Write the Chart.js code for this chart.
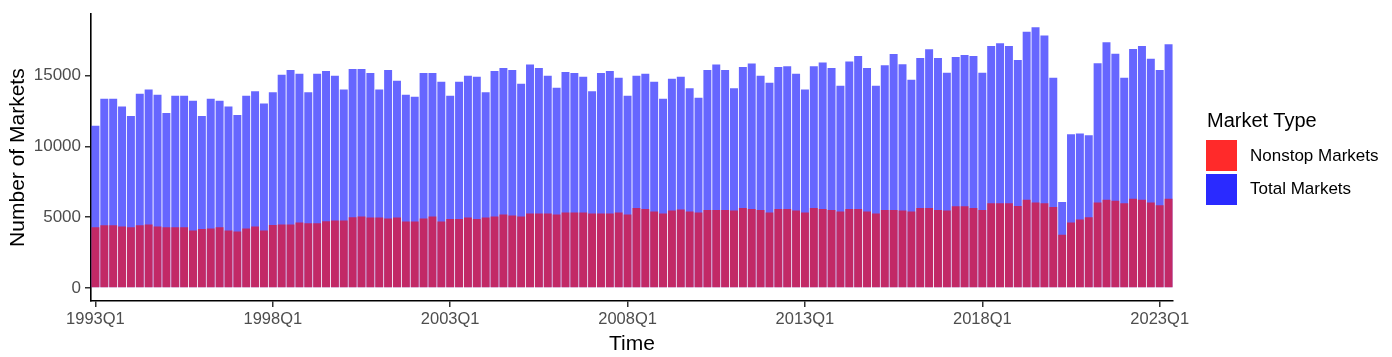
<!DOCTYPE html>
<html>
<head>
<meta charset="utf-8">
<script src="https://cdn.jsdelivr.net/npm/chart.js@4"></script>
<style>
  html, body { margin: 0; padding: 0; background: #ffffff; }
  #wrap { position: relative; width: 1392px; height: 357px; }
  #chart { position: absolute; left: 0; top: 0; }
  .lg { position: absolute; font-family: 'Liberation Sans', Arial, sans-serif; color: #000; white-space: nowrap; }
  .key { position: absolute; width: 31px; height: 31px; }
</style>
</head>
<body>
<div id="wrap">
  <canvas id="chart" width="1392" height="357"></canvas>
  <div class="lg" style="left:1207px; top:107px; font-size:20px; line-height:26px;">Market Type</div>
  <div class="key" style="left:1206px; top:140px; background:#ff2a2a;"></div>
  <div class="key" style="left:1206px; top:174px; background:#2a2aff;"></div>
  <div class="lg" style="left:1250px; top:145px; font-size:17px; line-height:22px;">Nonstop Markets</div>
  <div class="lg" style="left:1250px; top:178px; font-size:17px; line-height:22px;">Total Markets</div>
</div>
<script>
const quarters = [
  '1993Q1','1993Q2','1993Q3','1993Q4','1994Q1','1994Q2','1994Q3','1994Q4',
  '1995Q1','1995Q2','1995Q3','1995Q4','1996Q1','1996Q2','1996Q3','1996Q4',
  '1997Q1','1997Q2','1997Q3','1997Q4','1998Q1','1998Q2','1998Q3','1998Q4',
  '1999Q1','1999Q2','1999Q3','1999Q4','2000Q1','2000Q2','2000Q3','2000Q4',
  '2001Q1','2001Q2','2001Q3','2001Q4','2002Q1','2002Q2','2002Q3','2002Q4',
  '2003Q1','2003Q2','2003Q3','2003Q4','2004Q1','2004Q2','2004Q3','2004Q4',
  '2005Q1','2005Q2','2005Q3','2005Q4','2006Q1','2006Q2','2006Q3','2006Q4',
  '2007Q1','2007Q2','2007Q3','2007Q4','2008Q1','2008Q2','2008Q3','2008Q4',
  '2009Q1','2009Q2','2009Q3','2009Q4','2010Q1','2010Q2','2010Q3','2010Q4',
  '2011Q1','2011Q2','2011Q3','2011Q4','2012Q1','2012Q2','2012Q3','2012Q4',
  '2013Q1','2013Q2','2013Q3','2013Q4','2014Q1','2014Q2','2014Q3','2014Q4',
  '2015Q1','2015Q2','2015Q3','2015Q4','2016Q1','2016Q2','2016Q3','2016Q4',
  '2017Q1','2017Q2','2017Q3','2017Q4','2018Q1','2018Q2','2018Q3','2018Q4',
  '2019Q1','2019Q2','2019Q3','2019Q4','2020Q1','2020Q2','2020Q3','2020Q4',
  '2021Q1','2021Q2','2021Q3','2021Q4','2022Q1','2022Q2','2022Q3','2022Q4',
  '2023Q1','2023Q2'
];

const totalMarkets = [
  11470,13370,13370,12830, 12150,13720,14020,13650,
  12360,13580,13580,13230, 12150,13370,13230,12830,
  12220,13580,13900,13040, 13830,15070,15400,15140,
  13830,15140,15330,15000, 14020,15470,15470,15190,
  14020,15400,14650,13650, 13510,15190,15190,14580,
  13580,14580,15000,14930, 13830,15330,15540,15400,
  14440,15790,15540,15000, 14160,15260,15190,14930,
  13900,15190,15330,14860, 13580,15000,15140,14580,
  13370,14790,14930,14110, 13440,15400,15790,15400,
  14110,15610,15860,15000, 14510,15610,15680,15140,
  14020,15680,15930,15540, 14300,16000,16400,15540,
  14300,15750,16540,15820, 14720,16260,16870,16260,
  15210,16330,16470,16400, 15210,17100,17290,17100,
  16120,18110,18430,17850, 14860,6070,10860,10910,
  10790,15890,17360,16560, 14860,16890,17100,16210,
  15400,17220
];

const nonstopMarkets = [
  4300,4440,4440,4350, 4300,4440,4490,4350,
  4300,4300,4300,4070, 4160,4210,4300,4070,
  4000,4210,4350,4070, 4460,4490,4490,4630,
  4580,4580,4720,4770, 4770,5000,5050,4980,
  4980,4910,4980,4700, 4700,4910,5050,4700,
  4880,4880,4980,4880, 4980,5050,5190,5120,
  5050,5260,5260,5260, 5190,5330,5330,5330,
  5260,5260,5260,5330, 5190,5650,5580,5400,
  5260,5470,5540,5400, 5330,5510,5510,5510,
  5470,5650,5580,5510, 5330,5580,5580,5470,
  5330,5650,5580,5510, 5400,5580,5580,5400,
  5260,5510,5510,5470, 5400,5650,5650,5510,
  5470,5770,5770,5650, 5510,5980,5980,5980,
  5790,6240,6050,5980, 5720,3760,4630,4840,
  5000,6050,6240,6170, 5980,6310,6240,6050,
  5840,6310
];

const xTickLabels = ['1993Q1','1998Q1','2003Q1','2008Q1','2013Q1','2018Q1','2023Q1'];
const yTickValues = [0, 5000, 10000, 15000];

const FONT = "'Liberation Sans', Arial, sans-serif";

new Chart(document.getElementById('chart'), {
  type: 'bar',
  data: {
    labels: quarters,
    datasets: [
      {
        label: 'Nonstop Markets',
        data: nonstopMarkets,
        backgroundColor: 'rgba(255,0,0,0.6)',
        borderWidth: 0,
        grouped: false,
        barPercentage: 0.9,
        categoryPercentage: 1.0
      },
      {
        label: 'Total Markets',
        data: totalMarkets,
        backgroundColor: 'rgba(0,0,255,0.6)',
        borderWidth: 0,
        grouped: false,
        barPercentage: 0.9,
        categoryPercentage: 1.0
      }
    ]
  },
  options: {
    responsive: false,
    animation: false,
    events: [],
    layout: { padding: { left: 0, right: 219, top: 13, bottom: 0 } },
    plugins: {
      legend: { display: false },
      tooltip: { enabled: false },
      title: { display: false }
    },
    scales: {
      x: {
        type: 'category',
        offset: true,
        grid: {
          display: true,
          offset: false,
          drawOnChartArea: false,
          drawTicks: true,
          tickLength: 6,
          lineWidth: 1.5,
          tickColor: (ctx) => xTickLabels.includes(quarters[ctx.index]) ? '#333333' : 'rgba(0,0,0,0)'
        },
        border: { display: true, color: '#000000', width: 1.6 },
        ticks: {
          autoSkip: false,
          maxRotation: 0,
          minRotation: 0,
          padding: 3,
          color: '#4d4d4d',
          font: { family: FONT, size: 16.5 },
          callback: (v, i) => xTickLabels.includes(quarters[i]) ? quarters[i] : ''
        },
        title: {
          display: true,
          text: 'Time',
          color: '#000000',
          font: { family: FONT, size: 21 },
          padding: { top: 0, bottom: 0 }
        },
        afterFit: (s) => { s.height = 56; }
      },
      y: {
        type: 'linear',
        min: -920,
        max: 19350,
        grid: {
          display: true,
          drawOnChartArea: false,
          drawTicks: true,
          tickLength: 6,
          lineWidth: 1.5,
          tickColor: '#333333'
        },
        border: { display: true, color: '#000000', width: 1.6 },
        ticks: {
          padding: 4,
          color: '#4d4d4d',
          font: { family: FONT, size: 17 },
          callback: (v) => String(v)
        },
        afterBuildTicks: (s) => { s.ticks = yTickValues.map(v => ({ value: v })); },
        title: {
          display: true,
          text: 'Number of Markets',
          color: '#000000',
          font: { family: FONT, size: 21 },
          padding: { top: 5.4, bottom: 0 }
        },
        afterFit: (s) => { s.width = 91; }
      }
    }
  }
});
</script>
</body>
</html>
